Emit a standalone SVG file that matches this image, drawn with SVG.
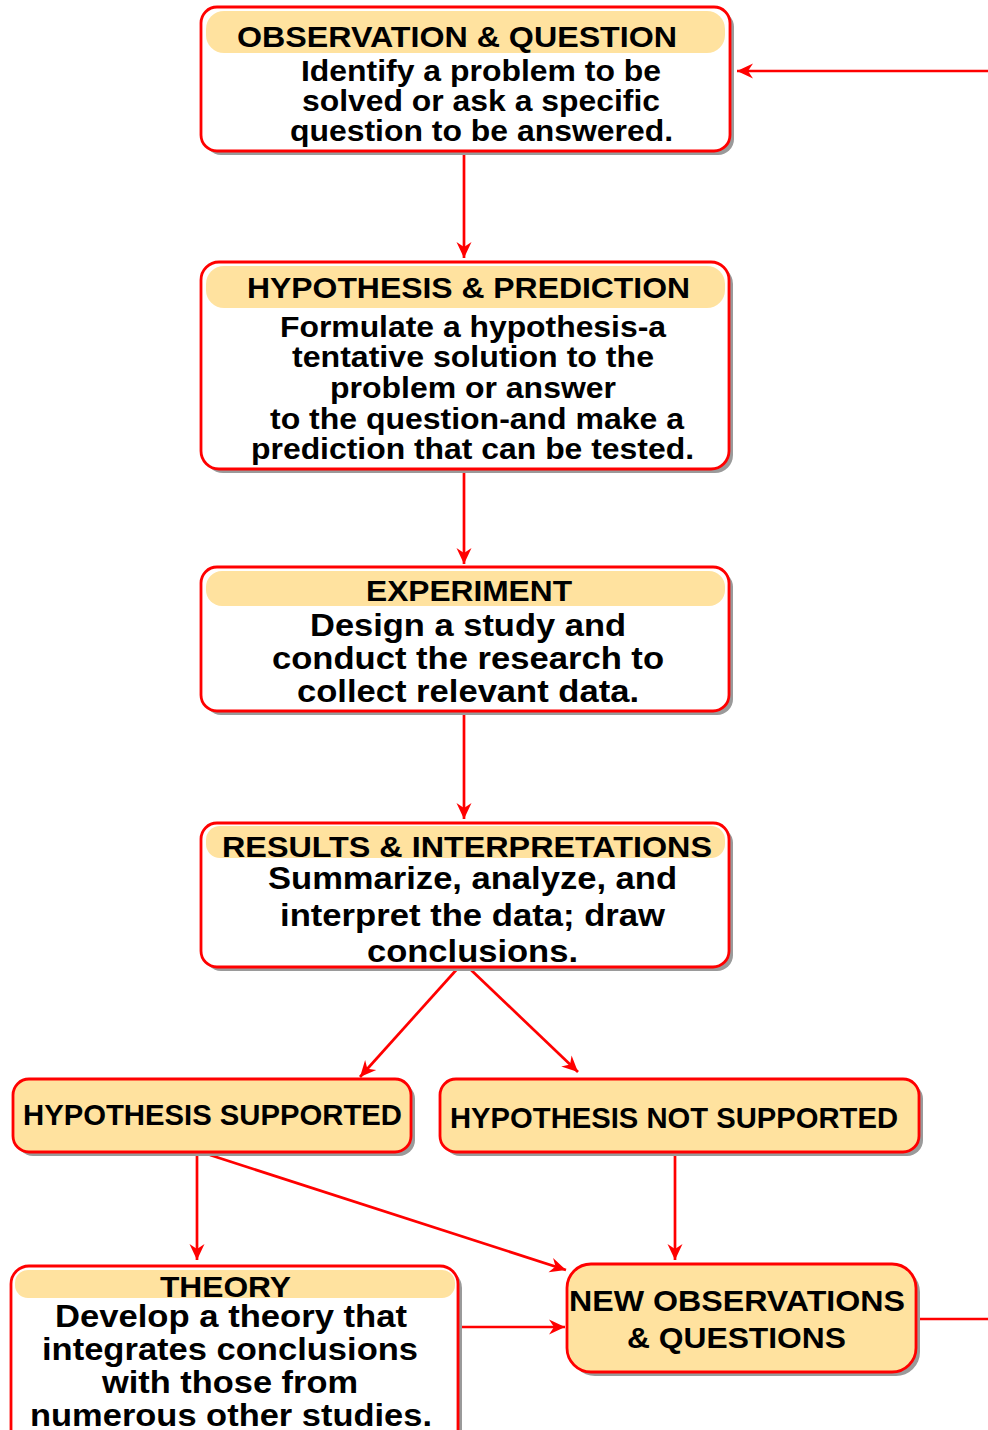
<svg xmlns="http://www.w3.org/2000/svg" width="988" height="1430" viewBox="0 0 988 1430">
<style>
.box{fill:#ffffff;stroke:#ff0000;stroke-width:2.8}
.fbox{fill:#ffe29f;stroke:#ff0000;stroke-width:2.8}
.sh{fill:#9a9a9a}
.hdr{fill:#ffe29f}
text{font-family:"Liberation Sans",Arial,sans-serif;font-weight:bold;fill:#000;text-anchor:middle}
.h{font-size:30px}
.b{font-size:30px}
.bb{font-size:32px}
.conn line{stroke:#ff0000;stroke-width:2.7;fill:none}
</style>
<defs>
<marker id="ah" markerUnits="userSpaceOnUse" markerWidth="20" markerHeight="18" viewBox="-17 -9 19 18" refX="0" refY="0" orient="auto">
<path d="M0,0 L-16,-7.5 L-11,0 L-16,7.5 Z" fill="#ff0000"/>
</marker>
</defs>
<g id="connectors" class="conn">
<line x1="988" y1="71" x2="737" y2="71" marker-end="url(#ah)"/>
<line x1="464" y1="152" x2="464" y2="258" marker-end="url(#ah)"/>
<line x1="464" y1="470" x2="464" y2="564" marker-end="url(#ah)"/>
<line x1="464" y1="712" x2="464" y2="819" marker-end="url(#ah)"/>
<line x1="458" y1="968" x2="360" y2="1077" marker-end="url(#ah)"/>
<line x1="469" y1="968" x2="578" y2="1072" marker-end="url(#ah)"/>
<line x1="197" y1="1153" x2="197" y2="1260" marker-end="url(#ah)"/>
<line x1="210" y1="1155" x2="566" y2="1270" marker-end="url(#ah)"/>
<line x1="675" y1="1153" x2="675" y2="1260" marker-end="url(#ah)"/>
<line x1="459" y1="1327" x2="565" y2="1327" marker-end="url(#ah)"/>
<line x1="917" y1="1319" x2="988" y2="1319"/>
</g>
<g id="observation">
<rect class="sh" x="205" y="11" width="529" height="144" rx="16"/>
<rect class="box" x="201" y="7" width="529" height="144" rx="16"/>
<rect class="hdr" x="206" y="11" width="519" height="42" rx="18"/>
<text class="h" x="457" y="47" textLength="440" lengthAdjust="spacingAndGlyphs">OBSERVATION &amp; QUESTION</text>
<text class="b" x="481" y="81" textLength="360" lengthAdjust="spacingAndGlyphs">Identify a problem to be</text>
<text class="b" x="481" y="111" textLength="358" lengthAdjust="spacingAndGlyphs">solved or ask a specific</text>
<text class="b" x="481.5" y="141" textLength="383" lengthAdjust="spacingAndGlyphs">question to be answered.</text>
</g>
<g id="hypothesis">
<rect class="sh" x="205" y="266" width="528" height="207" rx="18"/>
<rect class="box" x="201" y="262" width="528" height="207" rx="18"/>
<rect class="hdr" x="206" y="266" width="519" height="42" rx="18"/>
<text class="h" x="468.5" y="298" textLength="443" lengthAdjust="spacingAndGlyphs">HYPOTHESIS &amp; PREDICTION</text>
<text class="b" x="473" y="337" textLength="386" lengthAdjust="spacingAndGlyphs">Formulate a hypothesis-a</text>
<text class="b" x="473" y="367" textLength="362" lengthAdjust="spacingAndGlyphs">tentative solution to the</text>
<text class="b" x="473" y="398" textLength="286" lengthAdjust="spacingAndGlyphs">problem or answer</text>
<text class="b" x="477" y="429" textLength="414" lengthAdjust="spacingAndGlyphs">to the question-and make a</text>
<text class="b" x="472.5" y="459" textLength="443" lengthAdjust="spacingAndGlyphs">prediction that can be tested.</text>
</g>
<g id="experiment">
<rect class="sh" x="205" y="571" width="528" height="144" rx="16"/>
<rect class="box" x="201" y="567" width="528" height="144" rx="16"/>
<rect class="hdr" x="206" y="571" width="519" height="35" rx="16"/>
<text class="h" x="469" y="601" textLength="206" lengthAdjust="spacingAndGlyphs">EXPERIMENT</text>
<text class="bb" x="468" y="636" textLength="316" lengthAdjust="spacingAndGlyphs">Design a study and</text>
<text class="bb" x="468" y="669" textLength="392" lengthAdjust="spacingAndGlyphs">conduct the research to</text>
<text class="bb" x="468" y="702" textLength="342" lengthAdjust="spacingAndGlyphs">collect relevant data.</text>
</g>
<g id="results">
<rect class="sh" x="205" y="827" width="528" height="144" rx="16"/>
<rect class="box" x="201" y="823" width="528" height="144" rx="16"/>
<rect class="hdr" x="206" y="826" width="519" height="32" rx="14"/>
<text class="h" x="467" y="857" textLength="490" lengthAdjust="spacingAndGlyphs">RESULTS &amp; INTERPRETATIONS</text>
<text class="bb" x="472.5" y="889" textLength="409" lengthAdjust="spacingAndGlyphs">Summarize, analyze, and</text>
<text class="bb" x="472.5" y="926" textLength="385" lengthAdjust="spacingAndGlyphs">interpret the data; draw</text>
<text class="bb" x="472.5" y="962" textLength="211" lengthAdjust="spacingAndGlyphs">conclusions.</text>
</g>
<g id="supported">
<rect class="sh" x="17" y="1083" width="398" height="73" rx="16"/>
<rect class="fbox" x="13" y="1079" width="398" height="73" rx="16"/>
<text class="h" x="212.5" y="1125" textLength="379" lengthAdjust="spacingAndGlyphs">HYPOTHESIS SUPPORTED</text>
</g>
<g id="not-supported">
<rect class="sh" x="444" y="1083" width="479" height="73" rx="16"/>
<rect class="fbox" x="440" y="1079" width="479" height="73" rx="16"/>
<text class="h" x="674" y="1128" textLength="448" lengthAdjust="spacingAndGlyphs">HYPOTHESIS NOT SUPPORTED</text>
</g>
<g id="theory">
<rect class="sh" x="15" y="1270" width="447" height="190" rx="18"/>
<rect class="box" x="11" y="1266" width="447" height="190" rx="18"/>
<rect class="hdr" x="15" y="1270" width="440" height="28" rx="13"/>
<text class="h" x="225.5" y="1297" textLength="131" lengthAdjust="spacingAndGlyphs">THEORY</text>
<text class="bb" x="231" y="1327" textLength="352" lengthAdjust="spacingAndGlyphs">Develop a theory that</text>
<text class="bb" x="230" y="1360" textLength="376" lengthAdjust="spacingAndGlyphs">integrates conclusions</text>
<text class="bb" x="230" y="1393" textLength="256" lengthAdjust="spacingAndGlyphs">with those from</text>
<text class="bb" x="231" y="1426" textLength="402" lengthAdjust="spacingAndGlyphs">numerous other studies.</text>
</g>
<g id="new-observations">
<rect class="sh" x="571" y="1268" width="349" height="108" rx="24"/>
<rect class="fbox" x="567" y="1264" width="349" height="108" rx="24"/>
<text class="h" x="737" y="1311" textLength="336" lengthAdjust="spacingAndGlyphs">NEW OBSERVATIONS</text>
<text class="h" x="736.5" y="1348" textLength="219" lengthAdjust="spacingAndGlyphs">&amp; QUESTIONS</text>
</g>
</svg>
